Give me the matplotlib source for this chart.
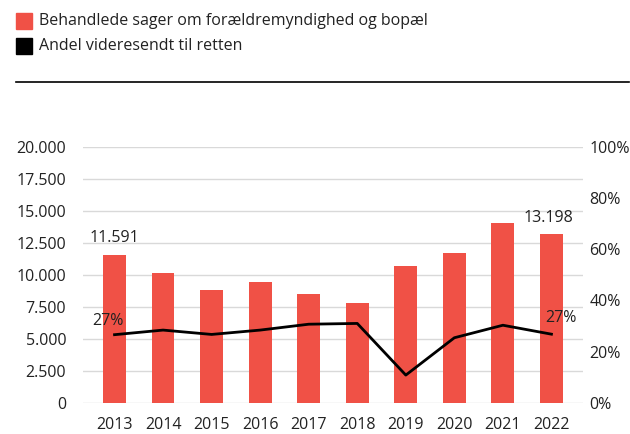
import matplotlib
matplotlib.use("Agg")
import matplotlib.pyplot as plt
from matplotlib.ticker import FuncFormatter
from matplotlib.patches import Rectangle

years = ["2013", "2014", "2015", "2016", "2017", "2018", "2019", "2020", "2021", "2022"]
cases = [11591, 10110, 8780, 9430, 8490, 7790, 10680, 11690, 14040, 13198]
share_to_court = [26.6, 28.4, 26.7, 28.4, 30.7, 31.0, 10.8, 25.4, 30.3, 26.8]

RED = "#f05146"
GRID = "#d9d9d9"
TEXT = "#222222"
FS = 11.5

plt.rcParams["font.family"] = ["Open Sans", "DejaVu Sans"]


def thousands(v, _):
    return f"{int(v):,}".replace(",", ".")


fig = plt.figure(figsize=(6.3, 4.34), dpi=100)
ax = fig.add_axes([0.1317, 0.0721, 0.7937, 0.5892])
ax2 = ax.twinx()

x = list(range(len(years)))
ax.bar(x, cases, width=0.47, color=RED, zorder=2)
ax.set_ylim(0, 20000)
ax.set_yticks(range(0, 20001, 2500))
ax.yaxis.set_major_formatter(FuncFormatter(thousands))
ax.set_xlim(-0.65, 9.65)
ax.set_xticks(x)
ax.set_xticklabels(years)
ax.grid(axis="y", color=GRID, lw=1, zorder=0)
ax.set_axisbelow(True)

ax2.plot(x, share_to_court, color="black", lw=2, zorder=3)
ax2.set_ylim(0, 100)
ax2.set_yticks(range(0, 101, 20))
ax2.yaxis.set_major_formatter(FuncFormatter(lambda v, _: f"{int(v)}%"))

for a in (ax, ax2):
    for s in a.spines.values():
        s.set_visible(False)
    a.tick_params(length=0, labelsize=FS, colors=TEXT)
ax.tick_params(axis="y", pad=12)
ax.tick_params(axis="x", pad=10)
ax2.tick_params(axis="y", pad=4.5)

# value labels on first and last year
ax.annotate(thousands(cases[0], None), (x[0], cases[0]), xytext=(0, 6),
            textcoords="offset points", ha="center", va="bottom", fontsize=FS, color=TEXT)
ax.annotate(thousands(cases[-1], None), (x[-1], cases[-1]), xytext=(-2, 6),
            textcoords="offset points", ha="center", va="bottom", fontsize=FS, color=TEXT)
ax2.annotate(f"{share_to_court[0]:.0f}%", (x[0], share_to_court[0]), xytext=(-5, 4),
             textcoords="offset points", ha="center", va="bottom", fontsize=FS, color=TEXT)
ax2.annotate(f"{share_to_court[-1]:.0f}%", (x[-1], share_to_court[-1]), xytext=(7, 6),
             textcoords="offset points", ha="center", va="bottom", fontsize=FS, color=TEXT)

# legend at the top
W, H = 630, 434
for i, (label, col) in enumerate([("Behandlede sager om forældremyndighed og bopæl", RED),
                                   ("Andel videresendt til retten", "black")]):
    yc = 21 + i * 24.5
    fig.patches.append(Rectangle((16 / W, 1 - (yc + 8) / H), 16 / W, 16 / H,
                                 transform=fig.transFigure, color=col))
    fig.text(39 / W, 1 - yc / H, label, ha="left", va="center", fontsize=FS, color=TEXT)
fig.add_artist(plt.Line2D([16 / W, 629 / W], [1 - 82 / H] * 2, color="black", lw=1.2,
                          transform=fig.transFigure))

fig.savefig("out.png")
